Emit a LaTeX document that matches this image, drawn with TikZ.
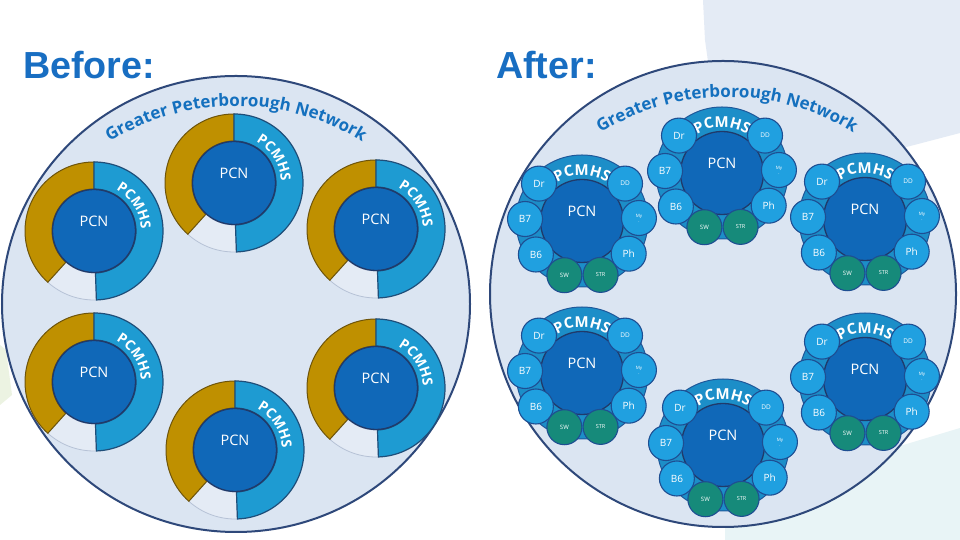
\documentclass[tikz,border=0pt]{standalone}
\usepackage{fontspec}
\setmainfont{Open Sans}
\newfontfamily\hdfont{Liberation Sans}
\usetikzlibrary{decorations.text}
\definecolor{bigfill}{RGB}{219,229,242}
\definecolor{bigline}{RGB}{46,72,122}
\definecolor{bgtr}{RGB}{228,235,245}
\definecolor{bgbr}{RGB}{232,244,246}
\definecolor{bggr}{RGB}{236,243,226}
\definecolor{headc}{RGB}{24,110,194}
\definecolor{netc}{RGB}{20,112,190}
\definecolor{goldc}{RGB}{191,144,0}
\definecolor{goldl}{RGB}{110,84,10}
\definecolor{ringc}{RGB}{30,155,210}
\definecolor{ringl}{RGB}{31,78,121}
\definecolor{gapc}{RGB}{228,235,245}
\definecolor{gapl}{RGB}{182,194,214}
\definecolor{pcnfill}{RGB}{16,104,184}
\definecolor{pcnline}{RGB}{32,58,106}
\definecolor{satfill}{RGB}{32,160,224}
\definecolor{satline}{RGB}{30,78,146}
\definecolor{tealfill}{RGB}{22,138,122}
\definecolor{backfill}{RGB}{28,142,200}
\definecolor{backline}{RGB}{31,88,154}
\newcommand\netfont{\fontsize{17}{17}\selectfont\bfseries}
\newcommand\pcmhsB{\fontsize{14}{14}\selectfont\bfseries}
\newcommand\pcmhsA{\fontsize{15}{15}\selectfont\bfseries}
\tikzset{
  bigc/.style={fill=bigfill, draw=bigline, line width=2pt},
  pcn/.style={circle, fill=pcnfill, draw=pcnline, line width=1.3pt, minimum size=83pt, inner sep=0pt},
  pcnlbl/.style={text=white, font=\fontsize{14.5}{14.5}\selectfont, inner sep=0pt},
  sat/.style={circle, fill=satfill, draw=satline, line width=1.1pt, minimum size=35pt, inner sep=0pt, text=white, align=center},
  tsat/.style={sat, fill=tealfill},
  backd/.style={circle, fill=backfill, draw=backline, line width=1pt, minimum size=132pt, inner sep=0pt},
  head/.style={text=headc, font=\hdfont\bfseries\fontsize{37.7}{40}\selectfont, inner sep=0pt, anchor=base west}
}
\newcommand\BeforeCl[2]{%
\begin{scope}[shift={#2}]
  \filldraw[fill=gapc, draw=gapl, line width=0.8pt] (228:69) arc[start angle=228,end angle=272,radius=69] -- (272:42) arc[start angle=272,end angle=228,radius=42] -- cycle;
  \filldraw[fill=goldc, draw=goldl, line width=1pt] (90:69) arc[start angle=90,end angle=228,radius=69] -- (228:42) arc[start angle=228,end angle=90,radius=42] -- cycle;
  \filldraw[fill=ringc, draw=ringl, line width=1.2pt] (90:69) arc[start angle=90,end angle=-88,radius=69] -- (-88:42) arc[start angle=-88,end angle=90,radius=42] -- cycle;
  \path[decorate, decoration={text along path, text={|\pcmhsB|PCMHS}, text align=center, text color=white}] (64:47) arc[start angle=64,end angle=0,radius=47];
  \node[pcn] (#1-pcn) at (0,0) {};
  \node[pcnlbl] (#1-lbl) at (0,10) {PCN};
\end{scope}}
\newcommand\AfterCl[2]{%
\begin{scope}[shift={#2}]
  \node[backd] (#1-bg) at (0,0) {};
  \path[decorate, decoration={text along path, text={|\pcmhsA|PCMHS}, text align=center, text color=white}] (122:46) arc[start angle=122,end angle=58,radius=46];
  \node[pcn] (#1-pcn) at (0,0) {};
  \node[pcnlbl] (#1-lbl) at (0,10) {PCN};
  \node[sat, font=\fontsize{10}{10}\selectfont] (#1-dr) at (139:57) {Dr};
  \node[sat, font=\fontsize{10}{10}\selectfont] (#1-b7) at (178:57) {B7};
  \node[sat, font=\fontsize{10}{10}\selectfont] (#1-b6) at (-144:57) {B6};
  \node[tsat, font=\fontsize{6}{6}\selectfont] (#1-sw) at (-108:57) {SW};
  \node[tsat, font=\fontsize{5.5}{6}\selectfont] (#1-str) at (-71:57) {STR};
  \node[sat, font=\fontsize{10}{10}\selectfont] (#1-ph) at (-35:57) {Ph};
  \node[sat, font=\fontsize{4.5}{5}\selectfont] (#1-my) at (3:57) {My\\.};
  \node[sat, font=\fontsize{6.5}{7}\selectfont] (#1-dd) at (41:57) {DD};
\end{scope}}
\begin{document}
\begin{tikzpicture}[x=1pt,y=1pt]
\useasboundingbox (0,0) rectangle (960,540);
\fill[white] (0,0) rectangle (960,540);
% background shapes
\fill[bgtr] (703,540) -- (960,540) -- (960,407) -- (895,390) -- (800,390) -- (712,450) -- (705,500) -- cycle;
\fill[bgbr] (725,0) -- (725,35) -- (880,88) -- (960,112) -- (960,0) -- cycle;
\fill[bggr] (0,195) -- (6,190) -- (12,145) -- (0,135) -- cycle;
% big circles
\draw[bigc] (236,236) ellipse[x radius=234, y radius=228];
\draw[bigc] (723,246) circle[radius=233];
% network titles
\path[decorate, decoration={text along path, text={|\netfont|Greater Peterborough Network}, text align=center, text color=netc}] (236,194) ++(130:240) arc[start angle=130,end angle=50,radius=240];
\path[decorate, decoration={text along path, text={|\netfont|Greater Peterborough Network}, text align=center, text color=netc}] (727,203) ++(130:240) arc[start angle=130,end angle=50,radius=240];
% before clusters
\BeforeCl{b1}{(234,357)}
\BeforeCl{b2}{(94,309)}
\BeforeCl{b3}{(376,311)}
\BeforeCl{b4}{(94,158)}
\BeforeCl{b5}{(376,152)}
\BeforeCl{b6}{(235,90)}
% after clusters
\AfterCl{a1}{(722,367)}
\AfterCl{a2}{(582,319)}
\AfterCl{a3}{(865,321)}
\AfterCl{a4}{(582,167)}
\AfterCl{a5}{(865,161)}
\AfterCl{a6}{(723,95)}
% headings
\node[head] (before) at (23,461) {Before:};
\node[head] (after) at (496,461) {After:};
\end{tikzpicture}
\end{document}
